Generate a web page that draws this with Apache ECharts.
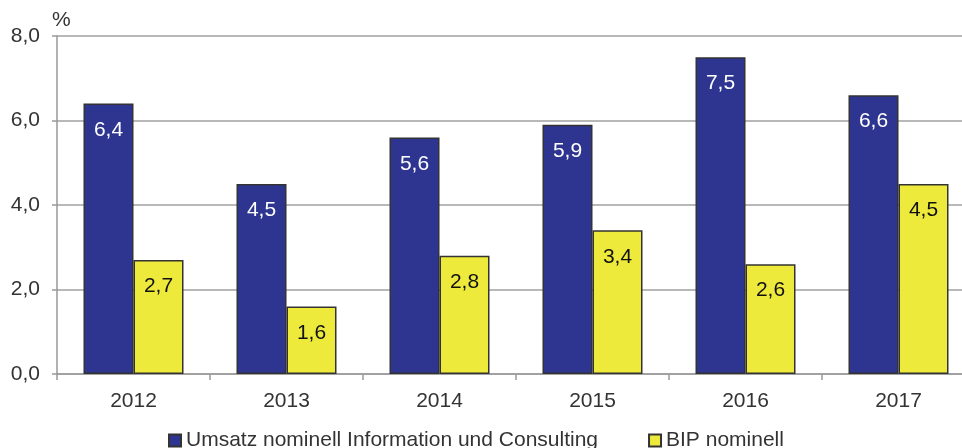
<!DOCTYPE html>
<html>
<head>
<meta charset="utf-8">
<script src="https://cdn.jsdelivr.net/npm/echarts@6/dist/echarts.min.js"></script>
<style>
  html, body { margin: 0; padding: 0; background: #fff; }
  #chart { width: 962px; height: 448px; }
</style>
</head>
<body>
<div id="chart"></div>
<script>
var years = ['2012', '2013', '2014', '2015', '2016', '2017'];
var umsatz = [6.4, 4.5, 5.6, 5.9, 7.5, 6.6];
var bip = [2.7, 1.6, 2.8, 3.4, 2.6, 4.5];
var seriesNames = ['Umsatz nominell Information und Consulting', 'BIP nominell'];

var fmt = function (v) { return v.toFixed(1).replace('.', ','); };

var chart = echarts.init(document.getElementById('chart'));

var option = {
  animation: false,
  textStyle: { fontFamily: 'Liberation Sans, Arial, sans-serif' },
  // plot runs past the right edge of the picture, like the original
  grid: { left: 57, width: 918, top: 36, height: 338, outerBoundsMode: 'none' },
  legend: {
    top: 425,
    left: 163,
    itemWidth: 12,
    itemHeight: 12,
    itemGap: 50,
    icon: 'rect',
    textStyle: { fontSize: 21, color: '#333' },
    data: seriesNames
  },
  xAxis: {
    type: 'category',
    data: years,
    axisLine: { lineStyle: { color: '#999', width: 1.5 } },
    axisTick: { show: true, length: 6, lineStyle: { color: '#999', width: 1.5 } },
    axisLabel: { fontSize: 21, color: '#333', margin: 17 }
  },
  yAxis: {
    type: 'value',
    min: 0,
    max: 8,
    interval: 2,
    name: '%',
    nameGap: 5,
    nameTextStyle: { fontSize: 21, color: '#333', align: 'left', padding: [0, 0, 0, -5] },
    axisLine: { show: true, lineStyle: { color: '#999', width: 1.5 } },
    axisTick: { show: true, length: 5, lineStyle: { color: '#999', width: 1.5 } },
    axisLabel: { fontSize: 21, color: '#333', margin: 17, formatter: fmt },
    splitLine: { lineStyle: { color: '#a0a0a0', width: 1.5 } }
  },
  series: [
    {
      name: seriesNames[0],
      type: 'bar',
      data: umsatz,
      barWidth: 50,
      barGap: '0%',
      itemStyle: { color: '#2e3590', borderColor: '#333', borderWidth: 1.5 },
      label: {
        show: true, position: 'insideTop', distance: 16,
        fontSize: 21, color: '#fff',
        formatter: function (p) { return fmt(p.value); }
      }
    },
    {
      name: seriesNames[1],
      type: 'bar',
      data: bip,
      barWidth: 50,
      itemStyle: { color: '#eeea3c', borderColor: '#333', borderWidth: 1.5 },
      label: {
        show: true, position: 'insideTop', distance: 16,
        fontSize: 21, color: '#111',
        formatter: function (p) { return fmt(p.value); }
      }
    }
  ]
};

chart.setOption(option);
</script>
</body>
</html>
